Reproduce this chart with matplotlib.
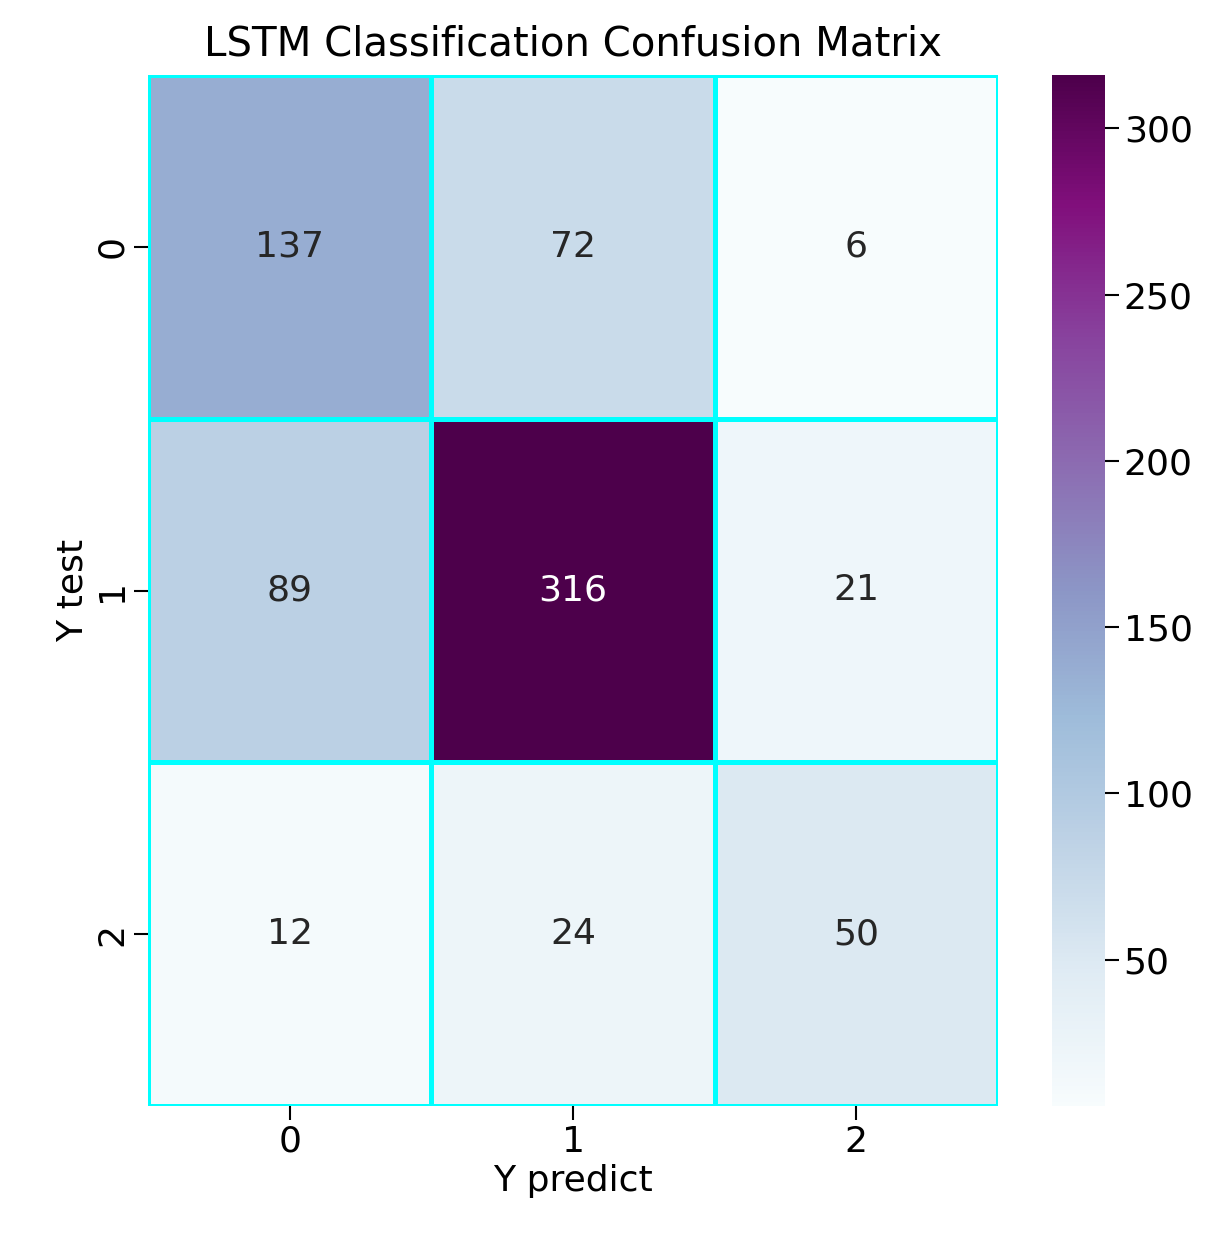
import matplotlib
matplotlib.use('Agg')
import matplotlib.pyplot as plt
import seaborn as sns
import numpy as np

labels = ['0', '1', '2']
row0 = [137, 72, 6]
row1 = [89, 316, 21]
row2 = [12, 24, 50]
cm = np.array([row0, row1, row2])

fig = plt.figure(figsize=(12.16, 12.42), dpi=100)
ax = fig.add_axes([148/1216, 1-1106/1242, 850/1216, 1031/1242])
cax = fig.add_axes([1052/1216, 1-1106/1242, 53/1216, 1031/1242])

sns.heatmap(cm, annot=True, fmt='d', cmap='BuPu', linewidths=2.5, linecolor='cyan',
            ax=ax, cbar_ax=cax, annot_kws={'fontsize': 26},
            xticklabels=labels, yticklabels=labels)
ax.set_title('LSTM Classification Confusion Matrix', fontsize=29, pad=14)
ax.set_xlabel('Y predict', fontsize=26)
ax.set_ylabel('Y test', fontsize=26)
ax.tick_params(labelsize=26, length=10, width=1.5)
for t in ax.get_yticklabels():
    t.set_rotation(90)
    t.set_va('center')
cax.tick_params(labelsize=26, length=10, width=1.5)
cax.set_yticks([50, 100, 150, 200, 250, 300])

fig.savefig('out.png', dpi=100)
